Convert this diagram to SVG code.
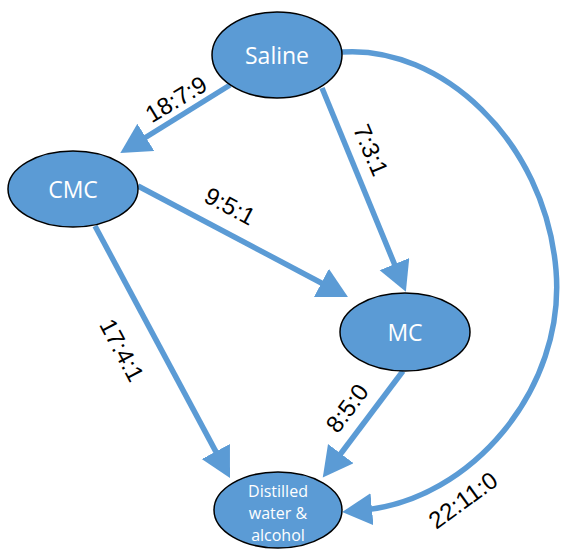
<svg xmlns="http://www.w3.org/2000/svg" width="569" height="552" viewBox="0 0 569 552">
<style>
.node ellipse{fill:#5B9BD5;stroke:#000;stroke-width:1.5}
.node text{fill:#fff;font-family:"Open Sans","Noto Sans",sans-serif;font-size:23px;text-anchor:middle;dominant-baseline:central}
.node text.small{font-size:16px}
.edge{fill:none;stroke:#5B9BD5;stroke-width:5.5;marker-end:url(#arr)}
.lbl{fill:#000;font-family:"Liberation Sans",Arial,sans-serif;font-size:24px;text-anchor:middle;dominant-baseline:central}
</style>
<defs>
<marker id="arr" markerUnits="userSpaceOnUse" markerWidth="40" markerHeight="40" refX="8" refY="16" orient="auto" viewBox="0 0 40 40">
<path d="M0,0 L30,16 L0,32 z" fill="#5B9BD5"/>
</marker>
</defs>
<rect width="569" height="552" fill="#fff"/>
<g id="connectors">
<line class="edge" x1="230" y1="85" x2="139" y2="141.5"/>
<line class="edge" x1="322" y1="88" x2="397.5" y2="271.5"/>
<line class="edge" x1="138" y1="186" x2="328.5" y2="286.7"/>
<line class="edge" x1="95" y1="226" x2="219.6" y2="458.6"/>
<line class="edge" x1="403" y1="371" x2="336" y2="460"/>
<path class="edge" d="M342,52 C440,45 545,140 556,270 C566,390 470,500 364,510"/>
<text class="lbl" transform="translate(176,99) rotate(-31)">18:7:9</text>
<text class="lbl" transform="translate(371,150) rotate(67)">7:3:1</text>
<text class="lbl" transform="translate(230,206) rotate(28)">9:5:1</text>
<text class="lbl" transform="translate(122,350) rotate(62)">17:4:1</text>
<text class="lbl" transform="translate(347,408) rotate(-53)">8:5:0</text>
<text class="lbl" transform="translate(463,500) rotate(-36)">22:11:0</text>
</g>
<g id="saline" class="node"><ellipse cx="277" cy="55" rx="65" ry="43"/><text x="277" y="55">Saline</text></g>
<g id="cmc" class="node"><ellipse cx="73" cy="189" rx="65" ry="38"/><text x="73" y="189">CMC</text></g>
<g id="mc" class="node"><ellipse cx="405" cy="332" rx="65" ry="39"/><text x="405" y="332">MC</text></g>
<g id="distilled" class="node"><ellipse cx="278" cy="510" rx="64" ry="38"/><text class="small" x="278" y="491">Distilled</text><text class="small" x="278" y="513">water &amp;</text><text class="small" x="278" y="535">alcohol</text></g>
</svg>
